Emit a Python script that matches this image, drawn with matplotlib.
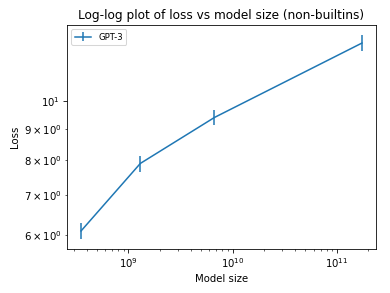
import matplotlib
matplotlib.use("Agg")
import matplotlib.pyplot as plt

model_sizes = [3.5e8, 1.3e9, 6.7e9, 1.75e11]
losses = [6.10, 7.89, 9.40, 12.48]
loss_err = [0.18, 0.24, 0.28, 0.38]

DPI = 73
fig = plt.figure(figsize=(390 / DPI, 293 / DPI), dpi=DPI)
ax = fig.add_axes([67 / 390, 44 / 293, (376 - 67) / 390, (249 - 25) / 293])
ax.errorbar(model_sizes, losses, yerr=loss_err, label="GPT-3")
ax.set_xscale("log")
ax.set_yscale("log")
ax.set_title("Log-log plot of loss vs model size (non-builtins)")
ax.set_xlabel("Model size")
ax.set_ylabel("Loss")
ax.legend(loc="upper left", fontsize="small")
fig.savefig("out.png", dpi=DPI)
